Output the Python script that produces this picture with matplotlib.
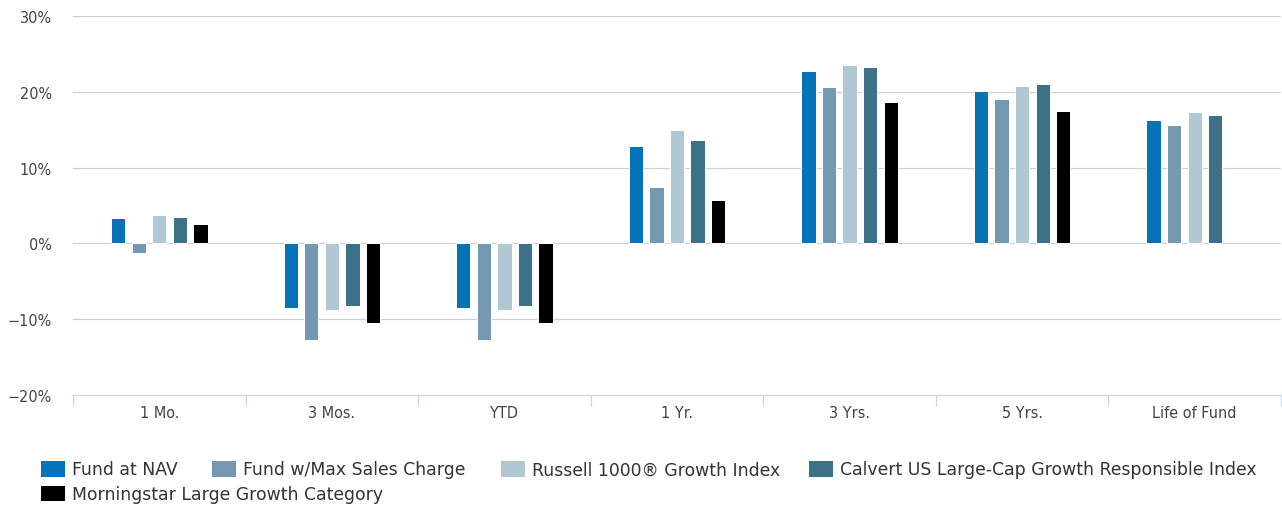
import matplotlib
matplotlib.use("Agg")
import matplotlib.pyplot as plt
import numpy as np
from matplotlib.patches import Rectangle
from matplotlib.ticker import FixedLocator, FuncFormatter

plt.rcParams["font.family"] = ["DejaVu Sans"]

categories = ["1 Mo.", "3 Mos.", "YTD", "1 Yr.", "3 Yrs.", "5 Yrs.", "Life of Fund"]
series_names = [
    "Fund at NAV",
    "Fund w/Max Sales Charge",
    "Russell 1000® Growth Index",
    "Calvert US Large-Cap Growth Responsible Index",
    "Morningstar Large Growth Category",
]
fund_nav = [3.3, -8.5, -8.5, 12.9, 22.7, 20.1, 16.3]
fund_max_sales = [-1.3, -12.8, -12.8, 7.4, 20.6, 19.1, 15.6]
russell_1000g = [3.8, -8.85, -8.85, 14.9, 23.5, 20.8, 17.3]
calvert_index = [3.5, -8.3, -8.3, 13.6, 23.3, 21.0, 17.0]
morningstar = [2.5, -10.5, -10.5, 5.7, 18.6, 17.5, np.nan]
yticks = [-20, -10, 0, 10, 20, 30]

series_values = [fund_nav, fund_max_sales, russell_1000g, calvert_index, morningstar]
colors = ["#0673b9", "#7499b0", "#b0c7d4", "#3b7189", "#000000"]

W, H = 1282, 506
DPI = 100
fig = plt.figure(figsize=(W / DPI, H / DPI), dpi=DPI)
ax = fig.add_axes([73 / W, 1 - 396 / H, (1281 - 73) / W, (396 - 17) / H])

n = len(categories)
x = np.arange(n)
cat_px = (1281 - 73) / n
pitch = 20.6 / cat_px
bw = 14.3 / cat_px
px_pt = 72 / DPI

for i, (vals, c) in enumerate(zip(series_values, colors)):
    offs = (i - 2) * pitch
    ax.bar(x + offs, vals, width=bw, color=c, edgecolor="white",
           linewidth=1 * px_pt, zorder=3)

ax.set_xlim(-0.5, n - 0.5)
ax.set_ylim(-20, 30)

ax.set_yticks(yticks)
ax.yaxis.set_major_formatter(FuncFormatter(lambda v, p: f"{int(v)}%".replace("-", "\u2212")))
ax.grid(axis="y", color="#d0d0d0", linewidth=1.2 * px_pt, zorder=0)
ax.set_axisbelow(True)
ax.tick_params(axis="y", length=0, pad=21 * px_pt, labelsize=14.5 * px_pt, labelcolor="#444444")

ax.set_xticks(x)
ax.set_xticklabels(categories)
ax.tick_params(axis="x", which="major", length=0, pad=10 * px_pt, labelsize=14.5 * px_pt,
               labelcolor="#444444")
ax.xaxis.set_minor_locator(FixedLocator(np.arange(-0.5, n, 1.0)))
ax.tick_params(axis="x", which="minor", length=11 * px_pt, width=1.2 * px_pt, color="#ccd6eb",
               direction="out")

for s in ["top", "right", "left"]:
    ax.spines[s].set_visible(False)
ax.spines["bottom"].set_color("#ccd6eb")
ax.spines["bottom"].set_linewidth(1.2 * px_pt)
ax.spines["bottom"].set_zorder(4)

legend_pos = [(41, 462), (212, 462), (501, 462), (809, 462), (41, 486.5)]
for (lx, ly), name, c in zip(legend_pos, series_names, colors):
    fig.patches.append(Rectangle((lx / W, 1 - (ly + 15.5) / H), 24 / W, 15.5 / H,
                                 transform=fig.transFigure, facecolor=c, edgecolor="none"))
    fig.text((lx + 31) / W, 1 - (ly + 8.5) / H, name, fontsize=17.2 * px_pt, color="#333333",
             va="center", ha="left")

fig.savefig("out.png", dpi=DPI)
